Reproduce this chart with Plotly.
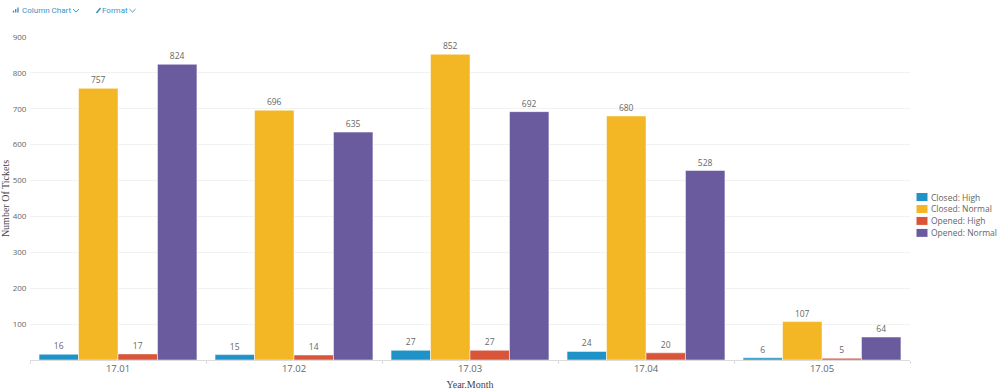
import plotly.graph_objects as go

categories = ["17.01", "17.02", "17.03", "17.04", "17.05"]
closed_high = [16, 15, 27, 24, 6]
closed_normal = [757, 696, 852, 680, 107]
opened_high = [17, 14, 27, 20, 5]
opened_normal = [824, 635, 692, 528, 64]
series = [
    ("Closed: High", closed_high, "#1f93c8"),
    ("Closed: Normal", closed_normal, "#f3b725"),
    ("Opened: High", opened_high, "#d9553a"),
    ("Opened: Normal", opened_normal, "#6a5a9e"),
]
yticks = list(range(100, 1000, 100))
FONT = "Open Sans"
GREY = "#666666"
BLUE = "#3a94c4"
L, R, T, B = 30, 910, 36.5, 360.5


def px(x):
    return (x - L) / (R - L)


def py(y):
    return (B - y) / (B - T)


fig = go.Figure()
for name, vals, col in series:
    fig.add_trace(go.Bar(
        name=name, x=categories, y=vals, text=vals, textposition="outside",
        cliponaxis=False,
        textfont=dict(family=FONT, size=8.5, color=GREY),
        marker=dict(color=col, line=dict(color="#ffffff", width=0.5)),
    ))

annotations = [
    dict(xref="paper", yref="paper", x=px(19.5), y=py(9.5), xanchor="left", yanchor="middle",
         text="Column Chart", showarrow=False, font=dict(family="Roboto", size=8, color=BLUE)),
    dict(xref="paper", yref="paper", x=px(100), y=py(9.5), xanchor="left", yanchor="middle",
         text="Format", showarrow=False, font=dict(family="Roboto", size=8, color=BLUE)),
]
shapes = []


def seg(x0, y0, x1, y1, width=1.0, color=BLUE):
    shapes.append(dict(type="line", xref="paper", yref="paper", x0=px(x0), y0=py(y0), x1=px(x1), y1=py(y1),
                       line=dict(color=color, width=width)))


for cx in (76, 132.5):
    seg(cx - 3, 8.5, cx, 11.5)
    seg(cx, 11.5, cx + 3, 8.5)
seg(13.5, 12, 13.5, 10, 1.4)
seg(15.7, 12, 15.7, 8.5, 1.4)
seg(18, 12, 18, 7, 1.4)
seg(96.5, 12.5, 100.5, 7.5, 1.6)

for i, (name, vals, col) in enumerate(series):
    yc = 197 + i * 12
    shapes.append(dict(type="rect", xref="paper", yref="paper", x0=px(916.5), x1=px(927.5), y0=py(yc - 4), y1=py(yc + 4),
                       fillcolor=col, line=dict(width=0)))
    annotations.append(dict(xref="paper", yref="paper", x=px(929), y=py(yc), xanchor="left", yanchor="middle",
                            text=name, showarrow=False, font=dict(family=FONT, size=8.5, color=GREY)))

fig.update_layout(
    width=999, height=390, autosize=False,
    margin=dict(l=L, r=999 - R, t=T, b=390 - B, pad=0, autoexpand=False),
    paper_bgcolor="white", plot_bgcolor="white",
    barmode="group", bargap=0.103, bargroupgap=0, showlegend=False,
    font=dict(family=FONT, size=9, color=GREY),
    xaxis=dict(
        showgrid=False, showline=True, automargin=False,
        linecolor="#dcdcdc", ticks="outside", tickson="boundaries", ticklen=3, tickcolor="#dcdcdc",
        tickfont=dict(family=FONT, size=9.5, color=GREY),
        title=dict(text="Year.Month", font=dict(family="Liberation Serif", size=10, color="#444444")),
    ),
    yaxis=dict(
        range=[0, 900], automargin=False,
        tickvals=yticks, gridcolor="#f2f2f2", gridwidth=1, showline=False, zeroline=False,
        tickfont=dict(family=FONT, size=8, color=GREY), ticks="outside", tickcolor="rgba(0,0,0,0)", ticklen=1,
        title=dict(text="Number Of Tickets", font=dict(family="Liberation Serif", size=10, color="#444444")),
    ),
    annotations=annotations,
    shapes=shapes,
)
fig.write_html("out.html", config={"displayModeBar": False},
               post_script="document.body.style.margin='0';document.documentElement.style.overflow='hidden';")
